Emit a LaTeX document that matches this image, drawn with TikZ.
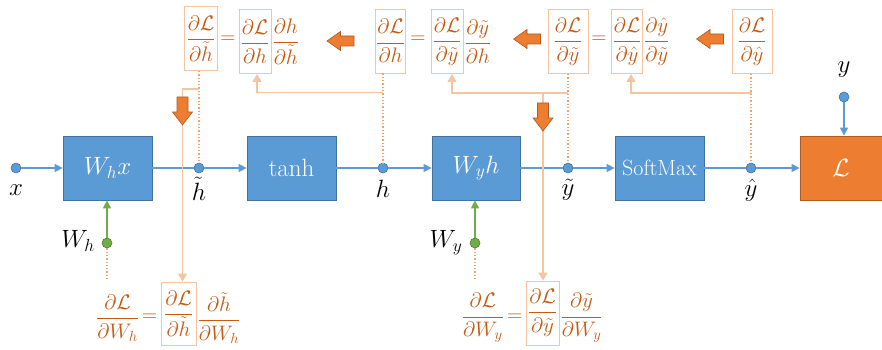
\RequirePackage{fix-cm}
\documentclass[tikz,border=0pt]{standalone}
\usepackage{amsmath}
\usetikzlibrary{arrows.meta}
\definecolor{blueF}{HTML}{5B9BD5}
\definecolor{blueD}{HTML}{41719C}
\definecolor{orF}{HTML}{ED7D31}
\definecolor{orD}{HTML}{AE5A21}
\definecolor{eqor}{HTML}{C55A11}
\definecolor{lightor}{HTML}{F7C4A2}
\definecolor{midor}{HTML}{F2A06E}
\definecolor{grF}{HTML}{70AD47}
\definecolor{grD}{HTML}{507E32}
\newcommand{\eqfont}{\fontsize{21}{25}\selectfont}
\newcommand{\pd}[2]{$\dfrac{\partial #1}{\partial #2}$}
\begin{document}
\begin{tikzpicture}[x=1pt,y=-1pt,
  blk/.style={draw=blueD, fill=blueF, line width=0.8pt, minimum width=89pt, minimum height=64pt, text=white, inner sep=0pt},
  lossbox/.style={draw=orD, fill=orF, line width=0.8pt, minimum width=82pt, minimum height=64pt, text=white, inner sep=0pt},
  bdot/.style={circle, fill=blueF, draw=blueD, line width=0.6pt, inner sep=0pt, minimum size=10pt},
  gdot/.style={circle, fill=grF, draw=grD, line width=0.6pt, inner sep=0pt, minimum size=10pt},
  flow/.style={draw=blueF, line width=1.5pt, -{Triangle[width=8pt,length=8pt]}},
  flowline/.style={draw=blueF, line width=1.5pt},
  gflow/.style={draw=grF, line width=1.5pt, -{Triangle[width=8pt,length=8pt]}},
  lbl/.style={inner sep=0pt, font=\fontsize{25}{29}\selectfont},
  tbox/.style={draw=lightor, line width=0.9pt, text=eqor, inner sep=1pt, minimum height=64pt, font=\eqfont},
  tfree/.style={text=eqor, inner sep=0pt, font=\eqfont},
  dotl/.style={draw=midor, line width=1.3pt, dash pattern=on 1.3pt off 2pt},
  lconn/.style={draw=lightor, line width=1.1pt},
  lconna/.style={lconn, -{Triangle[width=9pt,length=8pt,fill=lightor]}},
  barrow/.style={fill=orF, draw=orD, line width=0.6pt, line join=miter}
]
\useasboundingbox (0,0) rectangle (882,350);

% main row
\node[bdot] (x) at (16,168) {};
\node[blk] (b1) at (107.5,168) {\fontsize{25}{29}\selectfont $W_h x$};
\node[bdot] (ht) at (199,168) {};
\node[blk] (b2) at (291.5,168) {\fontsize{25}{29}\selectfont tanh};
\node[bdot] (h) at (383,168) {};
\node[blk, minimum width=88pt] (b3) at (476,168) {\fontsize{25}{29}\selectfont $W_y h$};
\node[bdot] (yt) at (568,168) {};
\node[blk] (b4) at (659.5,168) {\fontsize{22}{26}\selectfont SoftMax};
\node[bdot] (yh) at (751,168) {};
\node[lossbox] (L) at (841,168) {\fontsize{25}{29}\selectfont $\mathcal{L}$};
\node[bdot] (y) at (844,97) {};
\node[gdot] (wh) at (107,243) {};
\node[gdot] (wy) at (475,243) {};

% labels
\node[lbl] (lx) at (16,190) {$x$};
\node[lbl] (lht) at (199,189) {$\tilde h$};
\node[lbl] (lh) at (383,189) {$h$};
\node[lbl] (lyt) at (568,190) {$\tilde y$};
\node[lbl] (lyh) at (751,190) {$\hat y$};
\node[lbl] (ly) at (844,70) {$y$};
\node[lbl] (lwh) at (78,241) {$W_h$};
\node[lbl] (lwy) at (446,243) {$W_y$};

% flows
\draw[flow] (x) -- (b1);
\draw[flowline] (b1) -- (ht);
\draw[flow] (ht) -- (b2);
\draw[flowline] (b2) -- (h);
\draw[flow] (h) -- (b3);
\draw[flowline] (b3) -- (yt);
\draw[flow] (yt) -- (b4);
\draw[flowline] (b4) -- (yh);
\draw[flow] (yh) -- (L);
\draw[flow] (y) -- (y |- L.north);
\draw[gflow] (wh) -- (wh |- b1.south);
\draw[gflow] (wy) -- (wy |- b3.south);

% top equations
\node[tbox, minimum width=33pt] (q1) at (201,38.5) {\pd{\mathcal{L}}{\tilde h}};
\node[tfree] (eq1) at (228,40) {$=$};
\node[tbox, minimum width=32pt] (e1b) at (255,41.5) {\pd{\mathcal{L}}{h}};
\node[tfree, anchor=west] (f1) at ([xshift=1pt]e1b.east) {\pd{h}{\tilde h}};

\node[tbox, minimum width=30pt] (q2) at (390.5,41) {\pd{\mathcal{L}}{h}};
\node[tfree] (eq2) at (418,40) {$=$};
\node[tbox, minimum width=32pt] (e2b) at (447,41.5) {\pd{\mathcal{L}}{\tilde y}};
\node[tfree, anchor=west] (f2) at ([xshift=1pt]e2b.east) {\pd{\tilde y}{h}};

\node[tbox, minimum width=40pt] (q3) at (568,41.5) {\pd{\mathcal{L}}{\tilde y}};
\node[tfree] (eq3) at (599,40) {$=$};
\node[tbox, minimum width=31pt] (e3b) at (627,41.5) {\pd{\mathcal{L}}{\hat y}};
\node[tfree, anchor=west] (f3) at ([xshift=1pt]e3b.east) {\pd{\hat y}{\tilde y}};

\node[tbox, minimum width=40pt] (q4) at (752,41.5) {\pd{\mathcal{L}}{\hat y}};

% bottom equations
\node[tbox, minimum width=35pt, minimum height=63pt] (bw1) at (178.5,313.5) {\pd{\mathcal{L}}{\tilde h}};
\node[tfree, anchor=east] (geq1) at ([xshift=-3pt]bw1.west |- 0,318) {$=$};
\node[tfree, anchor=east] (g1) at ([xshift=-3pt]geq1.west) {\pd{\mathcal{L}}{W_h}};
\node[tfree, anchor=west] (gf1) at ([xshift=1pt]bw1.east |- 0,318) {\pd{\tilde h}{W_h}};

\node[tbox, minimum width=33pt, minimum height=64pt] (bw2) at (542.5,313) {\pd{\mathcal{L}}{\tilde y}};
\node[tfree, anchor=east] (geq2) at ([xshift=-3pt]bw2.west |- 0,318) {$=$};
\node[tfree, anchor=east] (g2) at ([xshift=-3pt]geq2.west) {\pd{\mathcal{L}}{W_y}};
\node[tfree, anchor=west] (gf2) at ([xshift=1pt]bw2.east |- 0,318) {\pd{\tilde y}{W_y}};

% dotted lines
\draw[dotl] (ht |- q1.south) -- (ht);
\draw[dotl] (h |- q2.south) -- (h);
\draw[dotl] (yt |- q3.south) -- (yt);
\draw[dotl] (yh |- q4.south) -- (yh);
\coordinate (whe) at (107,279);
\coordinate (wye) at (475,279);
\draw[dotl] (wh) -- (whe);
\draw[dotl] (wy) -- (wye);

% light connectors
\coordinate (j1) at (199,89);
\coordinate (k1) at (182.5,89);
\draw[lconna] (j1) -- (k1) -- (k1 |- bw1.north);
\coordinate (j2) at (383,92.5);
\coordinate (a2) at (257,92.5);
\draw[lconna] (j2) -- (a2) -- (a2 |- e1b.south);
\coordinate (j3) at (568,93);
\coordinate (a3) at (452,93);
\coordinate (k3) at (543,93);
\draw[lconna] (j3) -- (a3) -- (a3 |- e2b.south);
\draw[lconna] (k3) -- (k3 |- bw2.north);
\coordinate (j4) at (752,93);
\coordinate (a4) at (631,93);
\draw[lconna] (j4) -- (a4) -- (a4 |- e3b.south);

% block arrows (left-pointing)
\foreach \cx/\cy in {340.5/41, 527/39, 710/39}{
  \draw[barrow, shift={(\cx,\cy)}] (13.5,-5) -- (0,-5) -- (0,-9.5) -- (-13.5,0) -- (0,9.5) -- (0,5) -- (13.5,5) -- cycle;
}
% block arrows (down-pointing)
\foreach \cx/\cy in {182.5/111, 543/117}{
  \draw[barrow, shift={(\cx,\cy)}] (-5.5,-14) -- (-5.5,1) -- (-10,1) -- (0,14) -- (10,1) -- (5.5,1) -- (5.5,-14) -- cycle;
}
\end{tikzpicture}
\end{document}
